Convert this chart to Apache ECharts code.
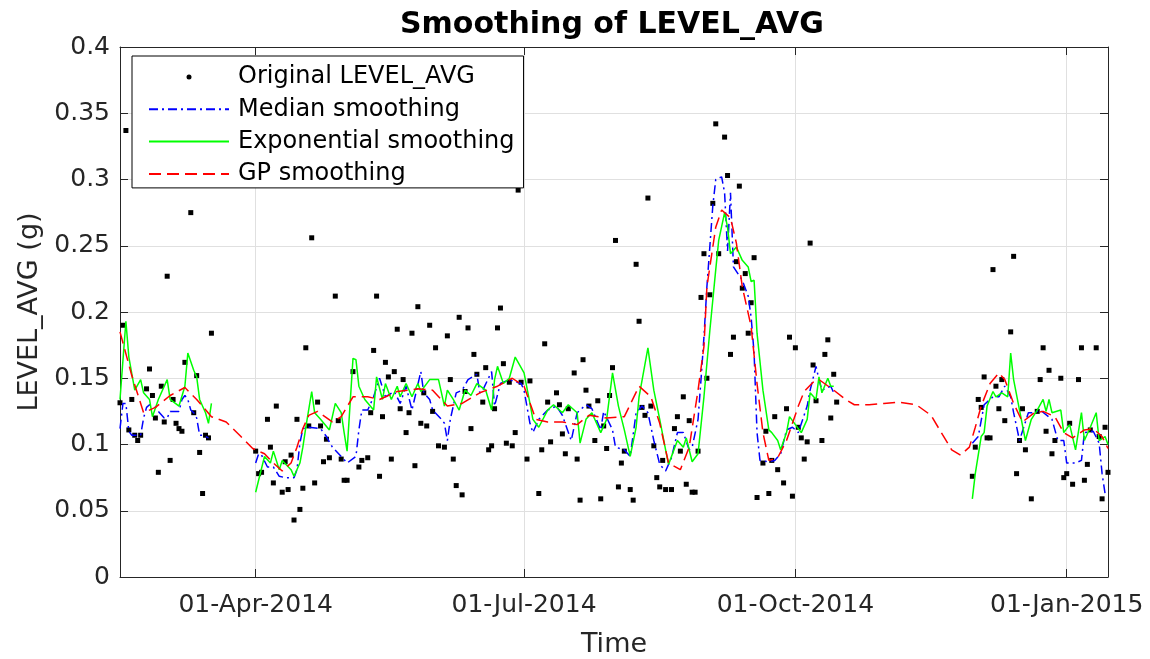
<!DOCTYPE html>
<html>
<head>
<meta charset="utf-8">
<script src="https://cdn.jsdelivr.net/npm/echarts@6/dist/echarts.min.js"></script>
<style>
  html, body { margin: 0; background: #fff; }
  #chart { width: 1150px; height: 659px; }
</style>
</head>
<body>
<div id="chart"></div>
<script>
// days are counted from 14-Feb-2014 (day 0) to 15-Jan-2015 (day 335)
const origPoints = [
  [0,0.1315],[1,0.190],[2,0.337],[3,0.111],[4,0.134],[5,0.107],[6,0.103],[7,0.107],[9,0.142],[10,0.157],
  [11,0.137],[12,0.120],[13,0.079],[14,0.144],[15,0.117],[16,0.227],[17,0.088],[18,0.134],[19,0.116],[20,0.112],
  [21,0.110],[22,0.162],[24,0.275],[25,0.124],[26,0.152],[27,0.094],[28,0.063],[29,0.107],[30,0.105],[31,0.184],
  [46,0.095],[47,0.078],[48,0.079],[50,0.119],[51,0.098],[52,0.071],[53,0.129],[55,0.064],[56,0.087],[57,0.066],
  [58,0.092],[59,0.043],[60,0.119],[61,0.051],[62,0.067],[63,0.173],[64,0.114],[65,0.256],[66,0.071],[67,0.132],
  [68,0.114],[69,0.087],[70,0.104],[71,0.090],[73,0.212],[74,0.118],[75,0.089],[76,0.073],[77,0.073],[79,0.155],
  [81,0.083],[82,0.088],[84,0.090],[85,0.124],[86,0.171],[87,0.212],[88,0.076],[89,0.121],[90,0.162],[91,0.151],
  [92,0.089],[93,0.155],[94,0.187],[95,0.127],[96,0.149],[97,0.109],[98,0.124],[99,0.184],[100,0.084],[101,0.204],
  [102,0.116],[103,0.139],[104,0.114],[105,0.190],[106,0.125],[107,0.173],[108,0.099],[110,0.098],[111,0.182],[112,0.149],
  [113,0.089],[114,0.069],[115,0.196],[116,0.062],[117,0.140],[118,0.188],[119,0.112],[120,0.168],[121,0.153],[123,0.132],
  [124,0.158],[125,0.096],[126,0.099],[127,0.127],[128,0.188],[129,0.203],[130,0.161],[131,0.101],[132,0.147],[133,0.099],
  [134,0.109],[135,0.292],[136,0.147],[138,0.089],[139,0.148],[142,0.063],[143,0.096],[144,0.176],[145,0.132],[146,0.102],
  [148,0.139],[149,0.130],[150,0.108],[151,0.093],[152,0.127],[154,0.154],[155,0.089],[156,0.058],[157,0.164],[158,0.141],
  [159,0.129],[161,0.103],[162,0.133],[163,0.059],[164,0.114],[165,0.097],[166,0.137],[167,0.158],[168,0.254],[169,0.068],
  [170,0.086],[171,0.095],[173,0.066],[174,0.058],[175,0.236],[176,0.193],[177,0.128],[178,0.122],[179,0.286],[180,0.129],
  [181,0.099],[182,0.075],[183,0.068],[184,0.088],[185,0.066],[187,0.066],[188,0.112],[189,0.121],[190,0.095],[191,0.136],
  [192,0.070],[193,0.118],[194,0.064],[195,0.064],[196,0.095],[197,0.211],[198,0.244],[199,0.150],[200,0.213],[201,0.282],
  [202,0.342],[203,0.244],[205,0.332],[206,0.303],[207,0.168],[208,0.181],[209,0.238],[210,0.295],[211,0.218],[212,0.229],
  [213,0.184],[214,0.207],[215,0.241],[216,0.060],[218,0.086],[219,0.110],[220,0.063],[221,0.088],[222,0.121],[223,0.081],
  [225,0.071],[226,0.127],[227,0.181],[228,0.061],[229,0.173],[230,0.113],[231,0.105],[232,0.089],[233,0.102],[234,0.252],
  [235,0.160],[236,0.133],[238,0.103],[239,0.168],[240,0.179],[241,0.120],[242,0.153],[243,0.132],
  [289,0.076],[290,0.098],[291,0.134],[292,0.128],[293,0.151],[294,0.105],[295,0.105],[296,0.232],[297,0.144],[298,0.127],
  [299,0.149],[300,0.118],[302,0.185],[303,0.242],[304,0.078],[305,0.103],[306,0.127],[307,0.096],[309,0.059],[311,0.125],
  [312,0.149],[313,0.173],[314,0.110],[315,0.156],[316,0.093],[317,0.103],[319,0.150],[320,0.075],[321,0.078],[322,0.116],
  [323,0.070],[325,0.149],[326,0.173],[327,0.073],[328,0.085],[329,0.111],[331,0.173],[332,0.106],[333,0.059],[334,0.113],
  [335,0.079]
];

const medianSmooth = [
  [0,0.112],[1,0.131],[2,0.131],[3,0.110],[4,0.107],[7,0.107],[8,0.120],[9,0.128],[10,0.130],[12,0.128],
  [13,0.125],[15,0.120],[16,0.120],[17,0.125],[20,0.125],[21,0.134],[22,0.137],[23,0.134],[24,0.126],[25,0.124],
  [26,0.120],[27,0.107],[28,0.107],[30,0.105],
  [38,null],
  [46,0.086],[47,0.093],[48,0.092],[50,0.083],[52,0.083],[54,0.076],[56,0.075],[59,0.075],[60,0.081],[61,0.101],
  [62,0.112],[64,0.113],[68,0.112],[70,0.106],[72,0.098],[75,0.091],[77,0.086],[80,0.091],[81,0.111],[82,0.126],
  [84,0.126],[86,0.136],[88,0.150],[90,0.136],[93,0.140],[95,0.131],[97,0.144],[99,0.126],[102,0.155],[103,0.139],
  [105,0.134],[106,0.126],[109,0.119],[110,0.116],[111,0.103],[112,0.119],[114,0.139],[116,0.141],[118,0.149],[121,0.153],
  [122,0.139],[123,0.141],[126,0.155],[127,0.129],[129,0.146],[132,0.149],[136,0.146],[137,0.141],[139,0.116],[140,0.109],
  [142,0.119],[145,0.126],[148,0.129],[150,0.122],[153,0.103],[155,0.124],[158,0.130],[160,0.127],[163,0.111],[164,0.125],
  [167,0.111],[168,0.098],[171,0.096],[173,0.091],[175,0.124],[177,0.129],[179,0.124],[181,0.103],[183,0.085],[185,0.080],
  [187,0.090],[189,0.109],[191,0.109],[193,0.096],[194,0.098],[196,0.119],[197,0.149],[198,0.181],[199,0.219],[201,0.280],
  [202,0.300],[204,0.302],[205,0.290],[206,0.246],[207,0.290],[208,0.234],[211,0.224],[213,0.212],[214,0.196],[215,0.169],
  [216,0.109],[217,0.088],[220,0.087],[222,0.088],[224,0.093],[226,0.111],[228,0.113],[230,0.109],[233,0.129],[234,0.141],
  [236,0.159],[237,0.149],[238,0.141],[241,0.144],[242,0.139],
  [265,null],
  [289,0.101],[291,0.106],[293,0.130],[296,0.136],[298,0.136],[300,0.144],[302,0.136],[303,0.124],[305,0.103],[308,0.124],
  [310,0.124],[312,0.126],[316,0.119],[318,0.103],[320,0.103],[321,0.086],[324,0.086],[326,0.088],[327,0.109],[330,0.110],
  [332,0.101],[333,0.078],[334,0.063]
];

const expSmooth = [
  [0,0.134],[2,0.193],[3,0.166],[5,0.141],[7,0.149],[8,0.139],[10,0.134],[11,0.121],[13,0.134],[16,0.149],
  [17,0.134],[20,0.129],[22,0.144],[23,0.169],[25,0.156],[26,0.151],[27,0.134],[29,0.124],[30,0.116],[31,0.131],
  [38,null],
  [46,0.064],[47,0.073],[49,0.091],[51,0.086],[52,0.095],[54,0.081],[55,0.088],[58,0.081],[59,0.076],[61,0.086],
  [62,0.098],[63,0.113],[65,0.140],[66,0.124],[68,0.119],[71,0.111],[73,0.131],[75,0.124],[76,0.109],[77,0.095],
  [79,0.165],[80,0.164],[81,0.144],[83,0.134],[86,0.126],[87,0.151],[89,0.134],[90,0.146],[92,0.134],[94,0.144],
  [95,0.136],[97,0.146],[99,0.136],[101,0.146],[102,0.140],[105,0.149],[108,0.149],[110,0.129],[111,0.141],[113,0.134],
  [115,0.126],[117,0.141],[119,0.137],[121,0.146],[124,0.141],[126,0.126],[127,0.149],[128,0.159],[130,0.146],[132,0.150],
  [134,0.166],[137,0.154],[139,0.131],[140,0.119],[142,0.113],[145,0.126],[147,0.130],[150,0.124],[152,0.130],[155,0.124],
  [156,0.101],[158,0.119],[160,0.124],[163,0.109],[165,0.119],[167,0.154],[169,0.129],[171,0.111],[173,0.091],[175,0.113],
  [176,0.136],[179,0.173],[181,0.141],[183,0.119],[185,0.096],[186,0.085],[189,0.103],[191,0.098],[192,0.105],[194,0.087],
  [196,0.093],[198,0.136],[200,0.186],[202,0.232],[203,0.254],[205,0.275],[206,0.264],[207,0.244],[209,0.249],[211,0.239],
  [213,0.234],[214,0.223],[215,0.224],[216,0.184],[218,0.141],[220,0.111],[221,0.109],[223,0.103],[224,0.096],[226,0.109],
  [227,0.121],[229,0.115],[231,0.109],[233,0.119],[234,0.139],[236,0.134],[237,0.151],[238,0.139],[240,0.150],[241,0.144],
  [242,0.144],
  [265,null],
  [289,0.059],[290,0.078],[292,0.106],[293,0.109],[294,0.129],[296,0.140],[297,0.136],[299,0.139],[301,0.136],[302,0.169],
  [303,0.149],[305,0.126],[307,0.103],[309,0.119],[311,0.126],[313,0.134],[314,0.125],[315,0.134],[316,0.124],[319,0.126],
  [320,0.109],[322,0.115],[324,0.096],[326,0.124],[327,0.103],[329,0.113],[331,0.124],[332,0.103],[334,0.106],[335,0.100]
];

const gpSmooth = [
  [0,0.185],[4,0.152],[8,0.124],[12,0.128],[17,0.137],[22,0.143],[26,0.134],[31,0.121],[36,0.117],[41,0.106],
  [45,0.097],[49,0.093],[52,0.086],[55,0.080],[58,0.086],[60,0.098],[62,0.112],[64,0.122],[67,0.125],[72,0.117],
  [75,0.121],[79,0.136],[84,0.136],[88,0.134],[94,0.140],[101,0.142],[106,0.141],[111,0.129],[116,0.131],[122,0.139],
  [128,0.144],[133,0.150],[137,0.144],[141,0.119],[145,0.117],[150,0.117],[155,0.115],[159,0.122],[165,0.120],[171,0.121],
  [176,0.144],[180,0.136],[183,0.116],[186,0.086],[190,0.081],[193,0.098],[196,0.141],[198,0.174],[199,0.219],[202,0.264],
  [204,0.277],[207,0.271],[209,0.252],[211,0.219],[214,0.189],[216,0.146],[218,0.109],[220,0.088],[223,0.090],[226,0.103],
  [230,0.129],[232,0.140],[235,0.147],[237,0.149],[242,0.141],[246,0.134],[249,0.130],[254,0.130],[259,0.131],[264,0.132],
  [270,0.130],[275,0.122],[279,0.107],[282,0.096],[285,0.092],[288,0.098],[290,0.113],[292,0.129],[295,0.146],[298,0.154],
  [300,0.149],[303,0.131],[306,0.117],[310,0.124],[313,0.125],[317,0.121],[320,0.109],[323,0.105],[327,0.111],[330,0.112],
  [333,0.106],[335,0.097]
];

const xTickDates = [[2014, 3, 1], [2014, 6, 1], [2014, 9, 1], [2015, 0, 1]];
const monthNames = ['Jan','Feb','Mar','Apr','May','Jun','Jul','Aug','Sep','Oct','Nov','Dec'];

const FONT = 'DejaVu Sans';
const AXIS_COLOR = '#262626';
const GRID_COLOR = '#e0e0e0';

function dayTime(d) {
  return new Date(2014, 1, 14 + d).getTime();
}
function toSeries(pts) {
  return pts.map(p => [dayTime(p[0]), p[1] === null ? '-' : p[1]]);
}
function fmtDate(v) {
  const d = new Date(v);
  return String(d.getDate()).padStart(2, '0') + '-' + monthNames[d.getMonth()] + '-' + d.getFullYear();
}
const xTicks = xTickDates.map(t => new Date(t[0], t[1], t[2]).getTime());

const chart = echarts.init(document.getElementById('chart'));

const tickFont = { fontFamily: FONT, fontSize: 25, color: AXIS_COLOR };
// hides the little marker ECharts puts in the middle of a line legend icon
const noMarker = { color: 'rgba(0,0,0,0)', borderColor: 'rgba(0,0,0,0)', borderWidth: 0 };

// time values are kept on a plain value axis so the quarter ticks can be placed exactly
const option = {
  animation: false,
  backgroundColor: '#fff',
  title: {
    text: 'Smoothing of LEVEL_AVG',
    left: 400,
    top: 10,
    padding: 0,
    textStyle: { fontFamily: FONT, fontWeight: 'bold', fontSize: 30, color: '#000' }
  },
  legend: {
    left: 132,
    top: 56,
    orient: 'vertical',
    itemWidth: 80,
    itemHeight: 5,
    itemGap: 8.3,
    padding: [9, 9, 2, 16],
    borderColor: '#000',
    borderWidth: 1,
    backgroundColor: '#fff',
    selectedMode: false,
    textStyle: { fontFamily: FONT, fontSize: 24, color: '#000', lineHeight: 24, padding: [0, 0, 0, 4] },
    data: [
      { name: 'Original LEVEL_AVG', icon: 'circle', itemStyle: { color: '#000', opacity: 1 } },
      { name: 'Median smoothing', itemStyle: noMarker },
      { name: 'Exponential smoothing', itemStyle: noMarker },
      { name: 'GP smoothing', itemStyle: noMarker }
    ]
  },
  grid: { left: 120, right: 42, top: 47, bottom: 82, outerBoundsMode: 'none' },
  xAxis: [
    {
      type: 'value',
      min: dayTime(0),
      max: dayTime(335),
      position: 'bottom',
      name: 'Time',
      nameLocation: 'middle',
      nameGap: 54,
      nameTextStyle: { fontFamily: FONT, fontSize: 27, color: AXIS_COLOR },
      axisLine: { onZero: false, lineStyle: { color: AXIS_COLOR, width: 1 } },
      axisTick: { show: true, inside: true, length: 8, customValues: xTicks, lineStyle: { color: AXIS_COLOR } },
      axisLabel: Object.assign({ customValues: xTicks, formatter: fmtDate, margin: 16 }, tickFont),
      splitLine: { show: true, lineStyle: { color: GRID_COLOR, width: 1 } }
    },
    {
      type: 'value',
      min: dayTime(0),
      max: dayTime(335),
      position: 'top',
      axisLine: { show: true, onZero: false, lineStyle: { color: AXIS_COLOR, width: 1 } },
      axisTick: { show: true, inside: true, length: 8, customValues: xTicks, lineStyle: { color: AXIS_COLOR } },
      axisLabel: { show: false },
      splitLine: { show: false }
    }
  ],
  yAxis: [
    {
      type: 'value',
      min: 0,
      max: 0.4,
      interval: 0.05,
      name: 'LEVEL_AVG (g)',
      nameLocation: 'middle',
      nameGap: 75,
      nameTextStyle: { fontFamily: FONT, fontSize: 27, color: AXIS_COLOR },
      axisLine: { show: true, lineStyle: { color: AXIS_COLOR, width: 1 } },
      axisTick: { show: true, inside: true, length: 8, lineStyle: { color: AXIS_COLOR } },
      axisLabel: Object.assign({ margin: 10, formatter: v => String(Math.round(v * 100) / 100) }, tickFont),
      splitLine: { show: true, lineStyle: { color: GRID_COLOR, width: 1 } }
    },
    {
      type: 'value',
      min: 0,
      max: 0.4,
      interval: 0.05,
      position: 'right',
      axisLine: { show: true, lineStyle: { color: AXIS_COLOR, width: 1 } },
      axisTick: { show: true, inside: true, length: 8, lineStyle: { color: AXIS_COLOR } },
      axisLabel: { show: false },
      splitLine: { show: false }
    }
  ],
  series: [
    {
      name: 'Original LEVEL_AVG',
      type: 'scatter',
      data: toSeries(origPoints),
      symbol: 'rect',
      symbolSize: 5,
      color: '#000',
      itemStyle: { color: '#000', opacity: 1 }
    },
    {
      name: 'Median smoothing',
      type: 'line',
      data: toSeries(medianSmooth),
      symbol: 'none',
      color: '#0000ff',
      lineStyle: { color: '#0000ff', width: 1.5, type: [9, 4, 2, 4] }
    },
    {
      name: 'Exponential smoothing',
      type: 'line',
      data: toSeries(expSmooth),
      symbol: 'none',
      color: '#00ff00',
      lineStyle: { color: '#00ff00', width: 1.5 }
    },
    {
      name: 'GP smoothing',
      type: 'line',
      data: toSeries(gpSmooth),
      symbol: 'none',
      color: '#ff0000',
      lineStyle: { color: '#ff0000', width: 1.5, type: [12, 6] }
    }
  ]
};

chart.setOption(option);
</script>
</body>
</html>
